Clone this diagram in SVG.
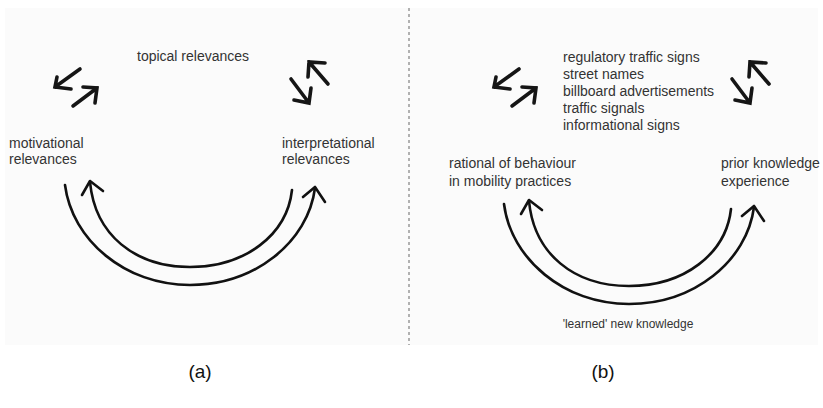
<svg xmlns="http://www.w3.org/2000/svg" width="823" height="408" viewBox="0 0 823 408">
<style>
.t{font-family:"Liberation Sans",Arial,sans-serif;font-size:14px;fill:#333}
.s{font-family:"Liberation Sans",Arial,sans-serif;font-size:12px;fill:#333}
.cap{font-family:"Liberation Sans",Arial,sans-serif;font-size:19px;fill:#111}
.arc{fill:none;stroke:#111;stroke-width:2.6;stroke-linecap:round;stroke-linejoin:round}
.sm{fill:none;stroke:#151515;stroke-width:3.6;stroke-linecap:round;stroke-linejoin:miter}
</style>
<defs>
<g id="pairL"><path class="sm" d="M80,69 L55,87 M57,77 L55,87 L71,89"/><path class="sm" d="M73,106 L97,88 M83,87 L97,88 L95,103"/></g>
<g id="pairR"><path class="sm" d="M328,84 L309,62 M308,77 L309,62 L325,63"/><path class="sm" d="M291,79 L309,103 M294,100 L309,103 L311,88"/></g>
<g id="arcs"><path class="arc" d="M65,185 C72,240 125,285 190,285 C255,285 308,242 315,188"/><path class="arc" d="M303,197 L315,187 L325,202"/><path class="arc" d="M292,190 C287,235 245,267 190,267 C135,267 95,235 90,182"/><path class="arc" d="M82,195 L90,181 L103,191"/></g>
</defs>
<rect x="0" y="0" width="823" height="408" fill="#fff"/>
<rect x="5" y="8" width="813" height="337" fill="#fbfbfb"/>
<line x1="409" y1="8" x2="409" y2="345" stroke="#999" stroke-width="1.5" stroke-dasharray="3 3"/>
<g id="connectors">
<use href="#pairL"/>
<use href="#pairR"/>
<use href="#arcs"/>
<use href="#pairL" transform="translate(439,0)"/>
<use href="#pairR" transform="translate(441,0)"/>
<use href="#arcs" transform="translate(439,19)"/>
</g>
<g id="a-topical"><text class="t" x="137" y="61">topical relevances</text></g>
<g id="a-motivational"><text class="t" x="9" y="148">motivational</text><text class="t" x="9" y="164">relevances</text></g>
<g id="a-interpretational"><text class="t" x="282" y="148">interpretational</text><text class="t" x="282" y="164">relevances</text></g>
<g id="b-signs"><text class="t" x="563" y="62">regulatory traffic signs</text><text class="t" x="563" y="79">street names</text><text class="t" x="563" y="96" textLength="151">billboard advertisements</text><text class="t" x="563" y="113">traffic signals</text><text class="t" x="563" y="130">informational signs</text></g>
<g id="b-rational"><text class="t" x="449" y="168">rational of behaviour</text><text class="t" x="449" y="186">in mobility practices</text></g>
<g id="b-prior"><text class="t" x="721" y="168">prior knowledge</text><text class="t" x="721" y="186">experience</text></g>
<g id="b-learned"><text class="s" x="628" y="328" text-anchor="middle">'learned' new knowledge</text></g>
<g id="captions"><text class="cap" x="200" y="378" text-anchor="middle">(a)</text><text class="cap" x="603" y="378" text-anchor="middle">(b)</text></g>
</svg>
